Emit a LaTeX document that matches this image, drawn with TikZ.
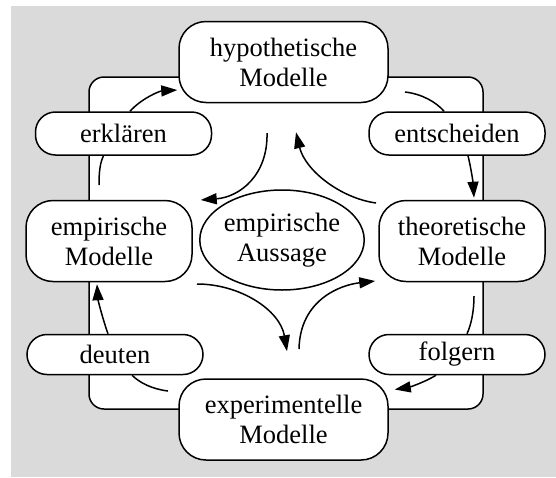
\documentclass[tikz,border=0pt]{standalone}
\usepackage{fontspec}
\setmainfont{Liberation Serif}
\newfontfamily\labelserif{Liberation Serif}
\usetikzlibrary{shapes.geometric,arrows.meta,calc}
\definecolor{panel}{RGB}{218,218,218}
\begin{document}
\begin{tikzpicture}[x=1pt,y=-1pt,
  line width=1.5pt,
  txt/.style={font=\labelserif\fontsize{26.5}{30}\selectfont, align=center, inner sep=0pt},
  model/.style={txt, draw, fill=white, rounded corners=27pt, minimum width=#1, minimum height=81pt},
  verb/.style={txt, draw, fill=white, rounded corners=20pt, minimum width=176pt, minimum height=#1},
  arr/.style={-{Triangle[length=16pt,width=11pt]}},
]
% canvas and grey panel
\useasboundingbox (0,0) rectangle (556,477);
\fill[white] (0,0) rectangle (556,477);
\fill[panel] (11,6) rectangle (556,477);
% white frame behind the cycle
\draw[fill=white, rounded corners=15pt] (89,77) rectangle (483,409);

% model nodes
\node[model=209pt] (hyp)  at (283.5,62)    {hypothetische\\Modelle};
\node[model=166pt] (emp)  at (109,241)     {empirische\\Modelle};
\node[model=166pt] (theo) at (462,241)     {theoretische\\Modelle};
\node[model=209pt] (exp)  at (283.5,419.5) {experimentelle\\Modelle};
\node[txt, draw, fill=white, ellipse, minimum width=152pt, minimum height=100pt] (aus) at (282,240) {empirische\\Aussage};

% activity nodes
\node[verb=43pt] (erk) at (123.5,133.5) {erklären};
\node[verb=43pt] (ent) at (457,133.5)   {entscheiden};
\node[verb=40pt] (deu) at (115,354.5)   {deuten};
\node[verb=40pt] (fol) at (457,354.5)   {folgern};

% free ends of the connectors
\coordinate (s1) at (99,185);
\coordinate (s2) at (405,92);
\coordinate (s3) at (376,203);
\coordinate (s4) at (267,133);
\coordinate (s5) at (197,284);
\coordinate (s6) at (299,349);
\coordinate (s7) at (474,296);
\coordinate (s8) at (168,391);

% empirische -> erklaeren -> hypothetische
\draw (s1) .. controls (99,172) and (100,163) .. ($(erk.south)+(-20,0)$);
\draw[arr] ($(erk.north)+(6.5,0)$) .. controls (142,98) and (160,91) .. ($(hyp.west)+(-1,28)$);
% hypothetische -> entscheiden -> theoretische
\draw (s2) .. controls (422,94) and (436,102) .. ($(ent.north)+(-13,0)$);
\draw[arr] ($(ent.south)+(11,0)$) .. controls (471,168) and (473,182) .. ($(theo.north)+(12,-2)$);
% theoretische -> hypothetische
\draw[arr] (s3) .. controls (340,198) and (305,170) .. ($(hyp.south)+(12.5,29)$);
% hypothetische -> empirische
\draw[arr] (s4) .. controls (268,175) and (240,197) .. ($(emp.east)+(8,-41)$);
% empirische -> experimentelle
\draw[arr] (s5) .. controls (240,284) and (280,310) .. ($(exp.north)+(3.5,-27)$);
% experimentelle -> theoretische
\draw[arr] (s6) .. controls (300,300) and (340,285) .. ($(theo.west)+(-3,40)$);
% theoretische -> folgern -> experimentelle
\draw (s7) .. controls (474,312) and (471,325) .. ($(fol.north)+(10,0)$);
\draw[arr] ($(fol.south)+(-21,0)$) .. controls (425,382) and (410,387) .. ($(exp.east)+(6,-30)$);
% experimentelle -> deuten -> empirische
\draw (s8) .. controls (152,389) and (140,383) .. ($(deu.south)+(17,0)$);
\draw[arr] ($(deu.north)+(-7,0)$) .. controls (103,320) and (98,300) .. ($(emp.south)+(-12,2)$);
\end{tikzpicture}
\end{document}
